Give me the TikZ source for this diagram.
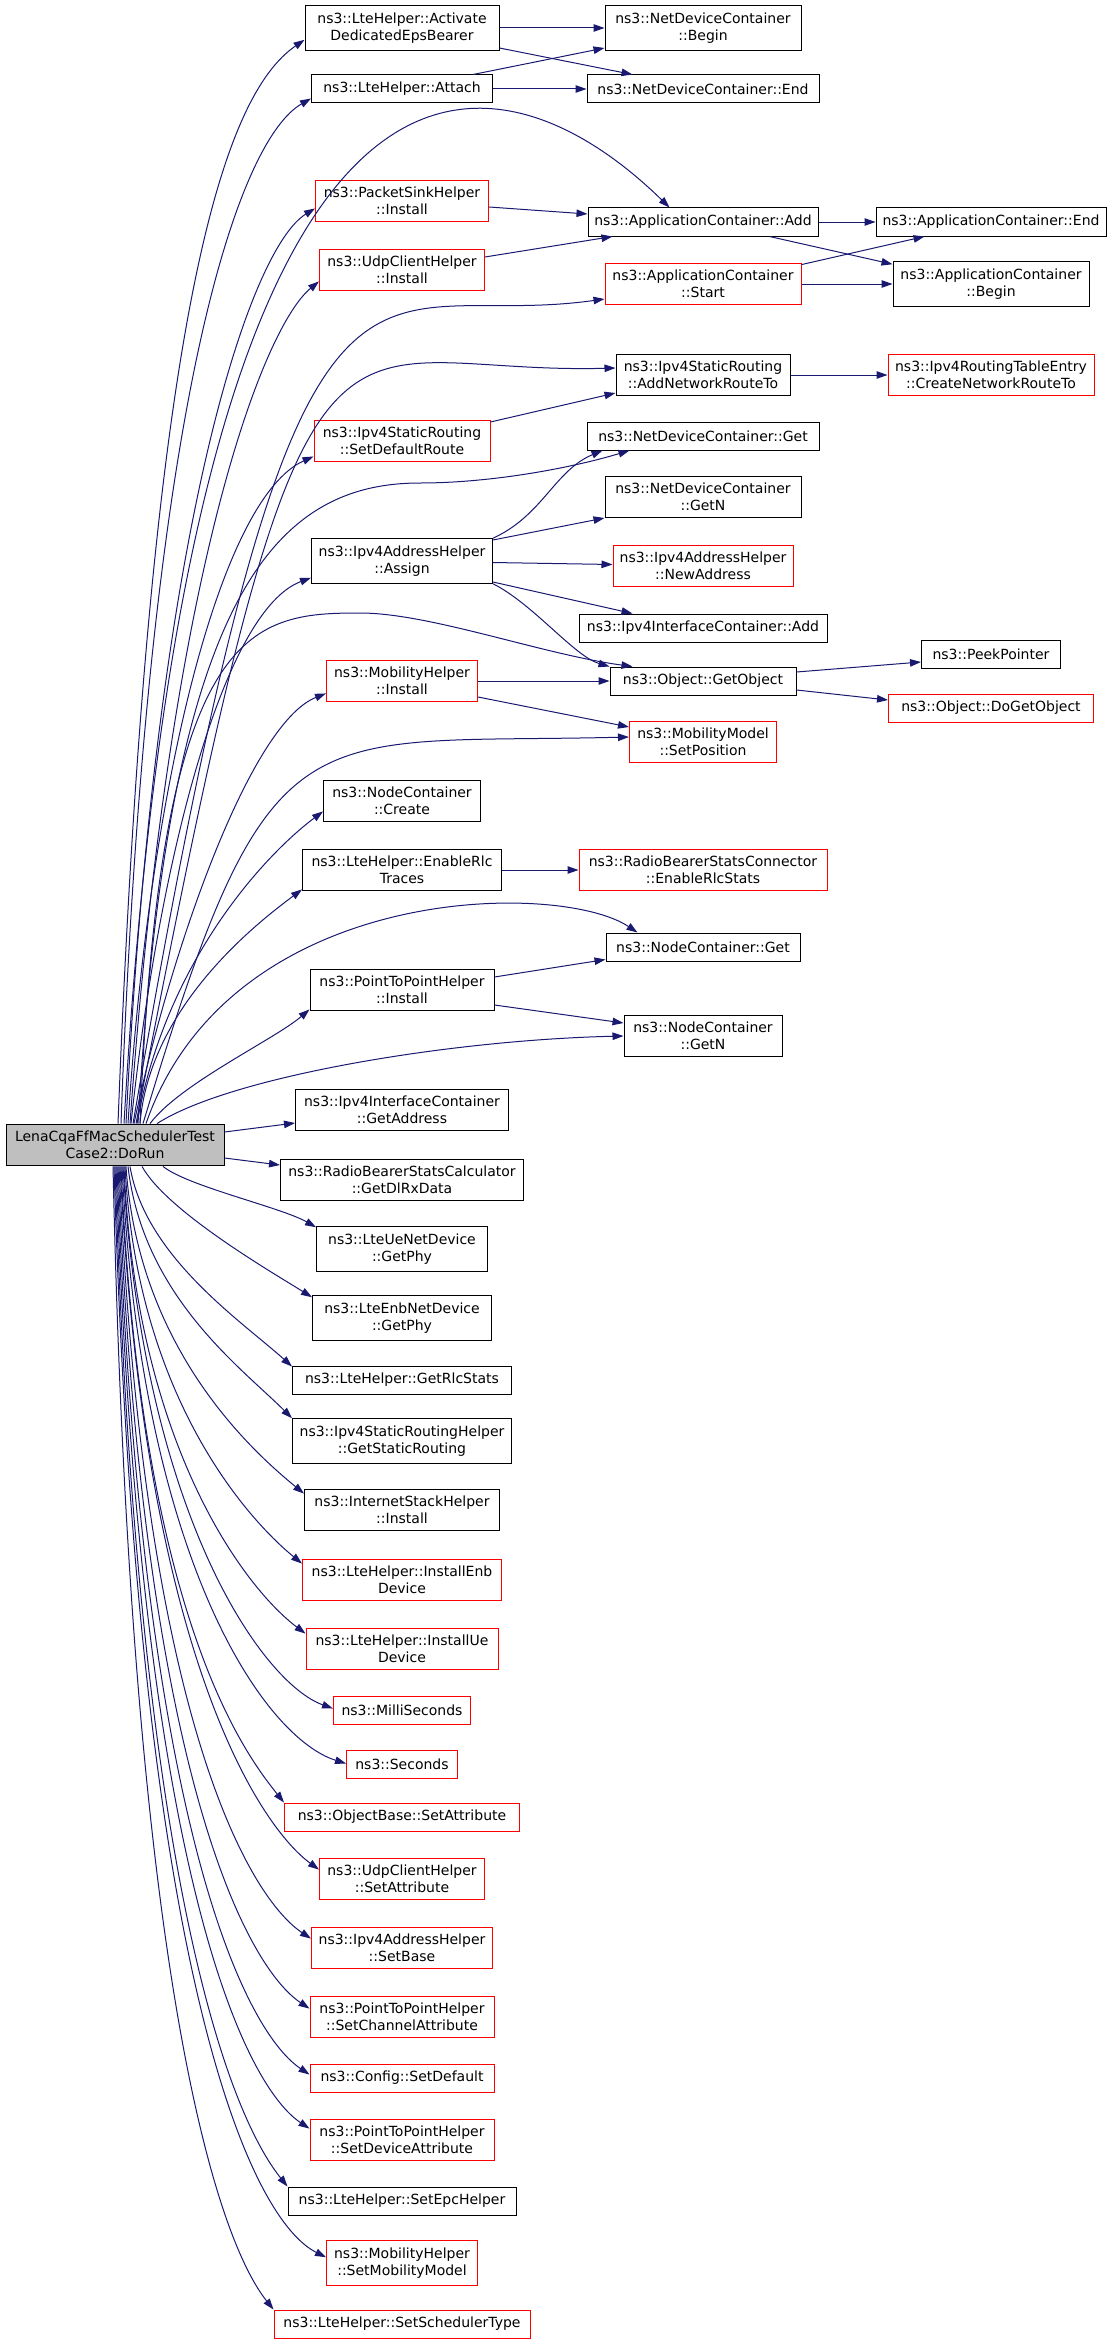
\documentclass[tikz,border=0pt]{standalone}
\usepackage{fontspec}
\setmainfont{DejaVu Sans}
\usetikzlibrary{arrows.meta}
\definecolor{edgeblue}{HTML}{191970}
\definecolor{nodered}{HTML}{FF0000}
\definecolor{rootgray}{HTML}{BFBFBF}

\begin{document}
\begin{tikzpicture}[x=1pt,y=1pt,>={Triangle[length=11pt,width=7.5pt]},
		fn/.style={draw=black,line width=1pt,align=center,inner xsep=2pt,inner ysep=7pt,minimum height=28pt,font=\fontsize{14}{17}\selectfont},
		fnred/.style={fn,draw=nodered},
		call/.style={->,draw=edgeblue,line width=1pt}]
	\useasboundingbox (0,0) rectangle (1107,-2344);

	\node[fn,fill=rootgray,minimum width=218pt] (root) at (115,-1145) {LenaCqaFfMacSchedulerTest\\Case2::DoRun};

	\node[fn,minimum width=194pt] (act) at (402,-28) {ns3::LteHelper::Activate\\DedicatedEpsBearer};
	\node[fn,minimum width=196pt] (ndcb) at (703,-28) {ns3::NetDeviceContainer\\::Begin};
	\node[fn,minimum width=181pt] (att) at (402,-89) {ns3::LteHelper::Attach};
	\node[fn,minimum width=232pt] (ndce) at (703,-89) {ns3::NetDeviceContainer::End};
	\node[fnred,minimum width=173pt] (psi) at (402,-201) {ns3::PacketSinkHelper\\::Install};
	\node[fn,minimum width=230pt] (aca) at (703,-222) {ns3::ApplicationContainer::Add};
	\node[fn,minimum width=230pt] (ace) at (991,-222) {ns3::ApplicationContainer::End};
	\node[fnred,minimum width=165pt] (uci) at (402,-270) {ns3::UdpClientHelper\\::Install};
	\node[fnred,minimum width=196pt] (acs) at (703,-284) {ns3::ApplicationContainer\\::Start};
	\node[fn,minimum width=196pt] (acb) at (991,-284) {ns3::ApplicationContainer\\::Begin};
	\node[fn,minimum width=174pt] (anr) at (703,-375) {ns3::Ipv4StaticRouting\\::AddNetworkRouteTo};
	\node[fnred,minimum width=206pt] (cnr) at (991,-375) {ns3::Ipv4RoutingTableEntry\\::CreateNetworkRouteTo};
	\node[fnred,minimum width=176pt] (sdr) at (402,-441) {ns3::Ipv4StaticRouting\\::SetDefaultRoute};
	\node[fn,minimum width=232pt] (ndcg) at (703,-436) {ns3::NetDeviceContainer::Get};
	\node[fn,minimum width=196pt] (ndcn) at (703,-497) {ns3::NetDeviceContainer\\::GetN};
	\node[fn,minimum width=181pt] (asg) at (402,-561) {ns3::Ipv4AddressHelper\\::Assign};
	\node[fnred,minimum width=180pt] (nad) at (703,-566) {ns3::Ipv4AddressHelper\\::NewAddress};
	\node[fn,minimum width=248pt] (ica) at (703,-628) {ns3::Ipv4InterfaceContainer::Add};
	\node[fn,minimum width=139pt] (pp) at (991,-654) {ns3::PeekPointer};
	\node[fn,minimum width=186pt] (gob) at (703,-681) {ns3::Object::GetObject};
	\node[fnred,minimum width=151pt] (mhi) at (402,-681) {ns3::MobilityHelper\\::Install};
	\node[fnred,minimum width=205pt] (dgo) at (991,-708) {ns3::Object::DoGetObject};
	\node[fnred,minimum width=147pt] (msp) at (703,-742) {ns3::MobilityModel\\::SetPosition};
	\node[fn,minimum width=157pt] (ncc) at (402,-801) {ns3::NodeContainer\\::Create};
	\node[fn,minimum width=199pt] (ert) at (402,-870) {ns3::LteHelper::EnableRlc\\Traces};
	\node[fnred,minimum width=248pt] (ers) at (703,-870) {ns3::RadioBearerStatsConnector\\::EnableRlcStats};
	\node[fn,minimum width=194pt] (ncg) at (703,-947) {ns3::NodeContainer::Get};
	\node[fn,minimum width=184pt] (p2i) at (402,-990) {ns3::PointToPointHelper\\::Install};
	\node[fn,minimum width=158pt] (ncn) at (703,-1036) {ns3::NodeContainer\\::GetN};
	\node[fn,minimum width=213pt] (gad) at (402,-1110) {ns3::Ipv4InterfaceContainer\\::GetAddress};
	\node[fn,minimum width=243pt] (dlrx) at (402,-1180) {ns3::RadioBearerStatsCalculator\\::GetDlRxData};
	\node[fn,minimum width=171pt] (uep) at (402,-1249) {ns3::LteUeNetDevice\\::GetPhy};
	\node[fn,minimum width=179pt] (enp) at (402,-1318) {ns3::LteEnbNetDevice\\::GetPhy};
	\node[fn,minimum width=219pt] (grs) at (402,-1380) {ns3::LteHelper::GetRlcStats};
	\node[fn,minimum width=219pt] (gsr) at (402,-1441) {ns3::Ipv4StaticRoutingHelper\\::GetStaticRouting};
	\node[fn,minimum width=195pt] (ish) at (402,-1510) {ns3::InternetStackHelper\\::Install};
	\node[fnred,minimum width=199pt] (ied) at (402,-1580) {ns3::LteHelper::InstallEnb\\Device};
	\node[fnred,minimum width=192pt] (iud) at (402,-1649) {ns3::LteHelper::InstallUe\\Device};
	\node[fnred,minimum width=137pt] (mls) at (402,-1710) {ns3::MilliSeconds};
	\node[fnred,minimum width=111pt] (sec) at (402,-1764) {ns3::Seconds};
	\node[fnred,minimum width=235pt] (obs) at (402,-1817) {ns3::ObjectBase::SetAttribute};
	\node[fnred,minimum width=165pt] (ucs) at (402,-1879) {ns3::UdpClientHelper\\::SetAttribute};
	\node[fnred,minimum width=181pt] (sba) at (402,-1948) {ns3::Ipv4AddressHelper\\::SetBase};
	\node[fnred,minimum width=184pt] (sca) at (402,-2017) {ns3::PointToPointHelper\\::SetChannelAttribute};
	\node[fnred,minimum width=184pt] (sdf) at (402,-2078) {ns3::Config::SetDefault};
	\node[fnred,minimum width=184pt] (sda) at (402,-2140) {ns3::PointToPointHelper\\::SetDeviceAttribute};
	\node[fn,minimum width=228pt] (seh) at (402,-2201) {ns3::LteHelper::SetEpcHelper};
	\node[fnred,minimum width=151pt] (smm) at (402,-2263) {ns3::MobilityHelper\\::SetMobilityModel};
	\node[fnred,minimum width=256pt] (sst) at (402,-2324) {ns3::LteHelper::SetSchedulerType};

	\coordinate (bendg) at (420,-483);
	\coordinate (bendo) at (360,-613);

	\draw[call] (act) -- (ndcb);
	\draw[call] ([yshift=-20pt]act.east) -- ([xshift=46pt]ndce.north west);
	\draw[call] ([xshift=-20pt]att.north east) -- ([yshift=-20pt]ndcb.west);
	\draw[call] (att) -- (ndce);
	\draw[call] ([yshift=-6pt]psi.east) -- ([yshift=8pt]aca.west);
	\draw[call] ([yshift=13pt]uci.east) -- ([xshift=25pt]aca.south west);
	\draw[call] (aca) -- (ace);
	\draw[call] ([xshift=-49pt]aca.south east) -- ([yshift=-3pt]acb.north west);
	\draw[call] ([yshift=-2pt]acs.north east) -- ([xshift=49pt]ace.south west);
	\draw[call] (acs) -- (acb);
	\draw[call] (anr) -- (cnr);
	\draw[call] ([yshift=19pt]sdr.east) -- ([yshift=-18pt]anr.west);
	\draw[call] (asg.north east) .. controls +(50,23) and +(-48,-20) .. ([xshift=16pt]ndcg.south west);
	\draw[call] ([yshift=21pt]asg.east) -- ([yshift=-21pt]ndcn.west);
	\draw[call] (asg) -- (nad);
	\draw[call] ([yshift=-21pt]asg.east) -- ([xshift=54pt]ica.north west);
	\draw[call] (asg.south east) .. controls +(40,-20) and +(-35,10) .. (gob.north west);
	\draw[call] (mhi) -- (gob);
	\draw[call] ([yshift=-16pt]mhi.east) -- ([yshift=15pt]msp.west);
	\draw[call] ([yshift=9pt]gob.east) -- ([yshift=-8pt]pp.west);
	\draw[call] ([yshift=-9pt]gob.east) -- ([yshift=8pt]dgo.west);
	\draw[call] (ert) -- (ers);
	\draw[call] ([yshift=13pt]p2i.east) -- ([yshift=2pt]ncg.south west);
	\draw[call] ([yshift=-15pt]p2i.east) -- ([yshift=13pt]ncn.west);

	\draw[call] ([xshift=9pt]root.north) .. controls +(76,1322) and +(-90,88) .. ([xshift=82pt]aca.north west);
	\draw[call] ([xshift=18pt]root.north) .. controls +(167,972) and +(-250,-35) .. ([yshift=-15pt]acs.west);
	\draw[call] ([xshift=21pt]root.north) .. controls +(174,902) and +(-300,-8) .. ([yshift=7pt]anr.west);
	\draw[call] ([xshift=23pt]root.north) .. controls +(30,520) and +(-150,0) .. (bendg)
		.. controls +(70,0) and +(-60,-18) .. ([xshift=43pt]ndcg.south west);
	\draw[call] ([xshift=25pt]root.north) .. controls +(20,500) and +(-110,0) .. (bendo)
		.. controls +(70,0) and +(-90,12) .. ([xshift=23pt]gob.north west);
	\draw[call] ([xshift=28pt]root.north) .. controls +(127,422) and +(-330,-8) .. ([yshift=5pt]msp.west);
	\draw[call] ([xshift=31pt]root.north) .. controls +(84,242) and +(-78,52) .. ([xshift=32pt]ncg.north west);
	\draw[call] ([xshift=42pt]root.north) .. controls +(73,47) and +(-174,-4) .. (ncn.west);
	\draw[call] ([yshift=13pt]root.east) -- ([yshift=-13pt]gad.west);
	\draw[call] ([yshift=-13pt]root.east) -- ([yshift=15pt]dlrx.west);

	\foreach \tgt/\sx/\ax/\ay/\cx/\cy/\ey in {act/3/32/822/-80/-55/11, att/6/27/742/-70/-40/5,
			psi/11/30/600/-65/-40/14, uci/15/40/560/-55/-45/10, sdr/13/22/342/-93/-42/6,
			asg/16/29/272/-86/-32/6, mhi/19/36/172/-76/-30/9, ncc/22/28/160/-60/-45/11,
			ert/25/10/120/-40/-30/2, p2i/35/30/40/-35/-30/2}
		\draw[call] ([xshift=\sx pt]root.north) .. controls +(\ax,\ay) and +(\cx,\cy) .. ([yshift=\ey pt]\tgt.south west);

	\foreach \tgt/\sx/\ax/\ay/\cx/\cy/\ey in {uep/48/25/-20/-35/20/1, enp/27/25/-45/-40/25/2,
			grs/15/15/-90/-50/45/1, gsr/13/15/-130/-50/50/0, ish/11/12/-180/-55/45/5,
			ied/10/12/-230/-55/45/5, iud/9/12/-280/-60/45/6, mls/8/20/-350/-70/25/13,
			sec/7/20/-400/-80/25/14, obs/6/20/-450/-40/50/0, ucs/5/25/-500/-55/40/12,
			sba/4/25/-560/-60/40/12, sca/3/25/-620/-60/40/13, sdf/2/25/-680/-60/40/11,
			sda/1/25/-730/-60/40/10, seh/0/25/-790/-40/50/0, smm/-1/25/-840/-70/35/17,
			sst/-2/20/-900/-40/50/0}
		\draw[call] ([xshift=\sx pt]root.south) .. controls +(\ax,\ay) and +(\cx,\cy) .. ([yshift=-\ey pt]\tgt.north west);
\end{tikzpicture}
\end{document}
